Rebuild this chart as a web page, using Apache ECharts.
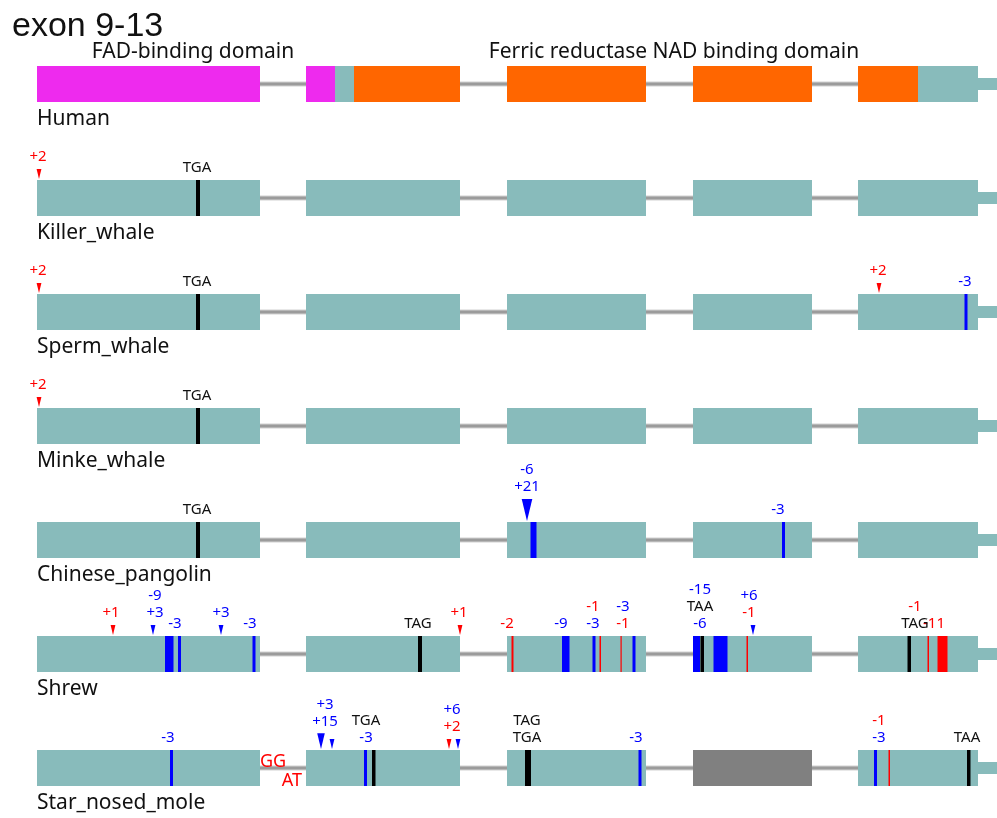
<!DOCTYPE html>
<html>
<head>
<meta charset="utf-8">
<script src="https://cdn.jsdelivr.net/npm/echarts@6/dist/echarts.min.js"></script>
<style>
  html, body { margin: 0; padding: 0; background: #ffffff; }
  #chart { width: 997px; height: 818px; }
</style>
</head>
<body>
<div id="chart"></div>
<script>
// ---- gene model (aligned coordinates, exons 9-13) ----
const species = ['Human', 'Killer_whale', 'Sperm_whale', 'Minke_whale',
                 'Chinese_pangolin', 'Shrew', 'Star_nosed_mole'];
const exonStarts = [37, 306, 507, 693, 858];
const exonEnds   = [260, 460, 646, 812, 978];
const utrEnd = 997;

// Pfam domains on the human reference
const humanDomains = [
  [37, 260, 'FAD'], [306, 335, 'FAD'],
  [354, 460, 'NAD'], [507, 646, 'NAD'], [693, 812, 'NAD'], [858, 918, 'NAD']
];
const domainTitles = [
  ['FAD-binding domain', 193],
  ['Ferric reductase NAD binding domain', 674]
];

// exons not recovered in an assembly (species, exon index)
const lostExons = [['Star_nosed_mole', 3]];

// lesions inside exons: [species, start, end, kind]
const lesions = [
  ['Killer_whale', 196, 200, 'stop'],
  ['Sperm_whale', 196, 200, 'stop'],
  ['Sperm_whale', 964.5, 967.5, 'inframe'],
  ['Minke_whale', 196, 200, 'stop'],
  ['Chinese_pangolin', 196, 200, 'stop'],
  ['Chinese_pangolin', 530.5, 536.5, 'inframe'],
  ['Chinese_pangolin', 782, 785, 'inframe'],
  ['Shrew', 165, 173.5, 'inframe'],
  ['Shrew', 178, 181, 'inframe'],
  ['Shrew', 252.5, 255.5, 'inframe'],
  ['Shrew', 418, 422, 'stop'],
  ['Shrew', 511.5, 513.5, 'frameshift'],
  ['Shrew', 562, 569.5, 'inframe'],
  ['Shrew', 592.5, 595.5, 'inframe'],
  ['Shrew', 599.5, 601, 'frameshift'],
  ['Shrew', 620.5, 621.7, 'frameshift'],
  ['Shrew', 632.5, 635.5, 'inframe'],
  ['Shrew', 693, 700, 'inframe'],
  ['Shrew', 700.5, 704, 'stop'],
  ['Shrew', 713.5, 727.5, 'inframe'],
  ['Shrew', 746.5, 748, 'frameshift'],
  ['Shrew', 907.5, 911, 'stop'],
  ['Shrew', 927.5, 929, 'frameshift'],
  ['Shrew', 937.5, 947.5, 'frameshift'],
  ['Star_nosed_mole', 170, 173, 'inframe'],
  ['Star_nosed_mole', 364, 367, 'inframe'],
  ['Star_nosed_mole', 372, 375.5, 'stop'],
  ['Star_nosed_mole', 525, 531, 'stop'],
  ['Star_nosed_mole', 638.5, 641.5, 'inframe'],
  ['Star_nosed_mole', 874, 877, 'inframe'],
  ['Star_nosed_mole', 888.5, 890, 'frameshift'],
  ['Star_nosed_mole', 967, 970.5, 'stop']
];

// insertions: [species, position, inserted length]
const insertions = [
  ['Killer_whale', 39, 2],
  ['Sperm_whale', 39, 2],
  ['Sperm_whale', 879, 2],
  ['Minke_whale', 39, 2],
  ['Chinese_pangolin', 527, 21],
  ['Shrew', 113, 1],
  ['Shrew', 153, 3],
  ['Shrew', 221, 3],
  ['Shrew', 460, 1],
  ['Shrew', 753, 6],
  ['Star_nosed_mole', 321, 15],
  ['Star_nosed_mole', 332, 3],
  ['Star_nosed_mole', 449, 2],
  ['Star_nosed_mole', 458, 6]
];

// event labels: [species, position, lines from top to bottom]
const notes = [
  ['Killer_whale', 38, '+2'], ['Killer_whale', 197, 'TGA'],
  ['Sperm_whale', 38, '+2'], ['Sperm_whale', 197, 'TGA'],
  ['Sperm_whale', 878, '+2'], ['Sperm_whale', 965, '-3'],
  ['Minke_whale', 38, '+2'], ['Minke_whale', 197, 'TGA'],
  ['Chinese_pangolin', 197, 'TGA'], ['Chinese_pangolin', 527, '-6|+21'],
  ['Chinese_pangolin', 778, '-3'],
  ['Shrew', 111, '+1'], ['Shrew', 155, '-9|+3'], ['Shrew', 175, '-3'],
  ['Shrew', 221, '+3'], ['Shrew', 250, '-3'], ['Shrew', 418, 'TAG'],
  ['Shrew', 459, '+1'], ['Shrew', 507, '-2'], ['Shrew', 561, '-9'],
  ['Shrew', 593, '-1|-3'], ['Shrew', 623, '-3|-1'],
  ['Shrew', 700, '-15|TAA|-6'], ['Shrew', 749, '+6|-1'],
  ['Shrew', 934, '-11'], ['Shrew', 915, '-1|TAG'],
  ['Star_nosed_mole', 168, '-3'], ['Star_nosed_mole', 325, '+3|+15'],
  ['Star_nosed_mole', 366, 'TGA|-3'], ['Star_nosed_mole', 452, '+6|+2'],
  ['Star_nosed_mole', 527, 'TAG|TGA'], ['Star_nosed_mole', 636, '-3'],
  ['Star_nosed_mole', 879, '-1|-3'], ['Star_nosed_mole', 967, 'TAA']
];

// altered splice sites: [species, position, dinucleotide, site]
const spliceNotes = [
  ['Star_nosed_mole', 260, 'GG', 'donor'],
  ['Star_nosed_mole', 306, 'AT', 'acceptor']
];

// ---- styling ----
const EXON = '#88bbbb';
const LOST = '#808080';
const DOMAIN_COLOR = { FAD: '#ee2aee', NAD: '#ff6600' };
const KIND_COLOR = { stop: '#000000', inframe: '#0000ff', frameshift: '#ff0000' };
const BLUE = '#0000ff', RED = '#ff0000', INK = '#111111';
const HALF = 18;         // half exon height, px
const TAIL_HALF = 6;     // half UTR height, px
const SANS = '"Noto Sans", "Open Sans", sans-serif';

const sIdx = name => species.indexOf(name);
function noteColor(t) {
  if (/^[+-]\d+$/.test(t)) return Math.abs(parseInt(t, 10)) % 3 === 0 ? BLUE : RED;
  return INK;
}
function triSize(len) {
  const h = Math.max(10, len * 1.05);
  return { h: h, w: h * 0.48 };
}

// ---- series data ----
const intronData = species.map((s, i) => [exonEnds[0], i, exonStarts[exonStarts.length - 1]]);
const exonItems = [];
species.forEach((s, i) => {
  exonStarts.forEach((st, e) => {
    const lost = lostExons.some(l => l[0] === s && l[1] === e);
    exonItems.push({ value: [st, i, exonEnds[e]], lost: lost });
  });
});
const tailData = species.map((s, i) => [exonEnds[exonEnds.length - 1], i, utrEnd]);
const domainData = humanDomains.map(d => [d[0], 0, d[1]]);
const lesionData = lesions.map(l => [l[1], sIdx(l[0]), l[2]]);
const insertData = insertions.map(t => [t[1], sIdx(t[0]), t[2]]);
const noteData = notes.map(n => [n[1], sIdx(n[0])]);
const speciesLabelData = species.map((s, i) => [exonStarts[0], i]);
const domainTitleData = domainTitles.map(d => [d[1], 0]);
const spliceData = spliceNotes.map(n => [n[1], sIdx(n[0])]);

const chart = echarts.init(document.getElementById('chart'), null, { renderer: 'canvas' });

function rectBetween(api, x0v, x1v, row, half, fill) {
  const a = api.coord([x0v, row]);
  const b = api.coord([x1v, row]);
  return {
    type: 'rect',
    shape: { x: a[0], y: a[1] - half, width: b[0] - a[0], height: half * 2 },
    style: { fill: fill }
  };
}

const baseSeries = { type: 'custom', silent: true, animation: false, clip: false };

chart.setOption({
  animation: false,
  grid: { left: 0, right: 0, top: 84, bottom: 50 },
  xAxis: { type: 'value', min: 0, max: 997, show: false },
  yAxis: { type: 'category', data: species, inverse: true, boundaryGap: false, show: false },
  graphic: [{
    type: 'text', left: 12, top: 10,
    style: { text: 'exon 9-13', font: '34px "Liberation Sans", Arial, sans-serif', fill: '#111' }
  }],
  series: [
    // introns
    Object.assign({}, baseSeries, {
      z: 1, data: intronData,
      renderItem: function (params, api) {
        const a = api.coord([api.value(0), api.value(1)]);
        const b = api.coord([api.value(2), api.value(1)]);
        return {
          type: 'group', children: [
            { type: 'line', shape: { x1: a[0], y1: a[1], x2: b[0], y2: b[1] },
              style: { stroke: '#d2d2d2', lineWidth: 5 } },
            { type: 'line', shape: { x1: a[0], y1: a[1], x2: b[0], y2: b[1] },
              style: { stroke: '#9b9b9b', lineWidth: 3 } }
          ]
        };
      }
    }),
    // exons
    Object.assign({}, baseSeries, {
      z: 2, data: exonItems,
      renderItem: function (params, api) {
        const item = exonItems[params.dataIndex];
        return rectBetween(api, api.value(0), api.value(2), api.value(1), HALF, item.lost ? LOST : EXON);
      }
    }),
    // 3' UTR
    Object.assign({}, baseSeries, {
      z: 2, data: tailData,
      renderItem: function (params, api) {
        return rectBetween(api, api.value(0), api.value(2), api.value(1), TAIL_HALF, EXON);
      }
    }),
    // human domains
    Object.assign({}, baseSeries, {
      z: 3, data: domainData,
      renderItem: function (params, api) {
        const d = humanDomains[params.dataIndex];
        return rectBetween(api, api.value(0), api.value(2), api.value(1), HALF, DOMAIN_COLOR[d[2]]);
      }
    }),
    // domain titles
    Object.assign({}, baseSeries, {
      z: 5, data: domainTitleData,
      renderItem: function (params, api) {
        const p = api.coord([api.value(0), api.value(1)]);
        return {
          type: 'text',
          style: { text: domainTitles[params.dataIndex][0], x: p[0], y: p[1] - HALF - 14,
                   align: 'center', verticalAlign: 'middle', font: '21px ' + SANS, fill: INK }
        };
      }
    }),
    // species names
    Object.assign({}, baseSeries, {
      z: 5, data: speciesLabelData,
      renderItem: function (params, api) {
        const p = api.coord([api.value(0), api.value(1)]);
        return {
          type: 'text',
          style: { text: species[params.dataIndex], x: p[0], y: p[1] + HALF + 17,
                   align: 'left', verticalAlign: 'middle', font: '21px ' + SANS, fill: INK }
        };
      }
    }),
    // lesions
    Object.assign({}, baseSeries, {
      z: 4, data: lesionData,
      renderItem: function (params, api) {
        const kind = lesions[params.dataIndex][3];
        return rectBetween(api, api.value(0), api.value(2), api.value(1), HALF, KIND_COLOR[kind]);
      }
    }),
    // insertion triangles
    Object.assign({}, baseSeries, {
      z: 4, data: insertData,
      renderItem: function (params, api) {
        const p = api.coord([api.value(0), api.value(1)]);
        const len = api.value(2);
        const t = triSize(len);
        const top = p[1] - HALF - 1;
        return {
          type: 'polygon',
          shape: { points: [[p[0] - t.w / 2, top - t.h], [p[0] + t.w / 2, top - t.h], [p[0], top]] },
          style: { fill: len % 3 === 0 ? BLUE : RED }
        };
      }
    }),
    // event labels
    Object.assign({}, baseSeries, {
      z: 6, data: noteData,
      renderItem: function (params, api) {
        const n = notes[params.dataIndex];
        const pos = api.value(0);
        const row = api.value(1);
        const p = api.coord([pos, row]);
        // lift the stack above any insertion triangle at this site
        let lift = 12.5;
        insertions.forEach(t => {
          if (t[0] === n[0] && Math.abs(t[1] - pos) <= 10) {
            lift = Math.max(lift, triSize(t[2]).h + 13);
          }
        });
        const lines = n[2].split('|');
        const boxTop = p[1] - HALF;
        const children = lines.map((txt, k) => ({
          type: 'text',
          style: {
            text: txt, x: p[0], y: boxTop - lift - (lines.length - 1 - k) * 17,
            align: 'center', verticalAlign: 'middle', font: '15px ' + SANS, fill: noteColor(txt)
          }
        }));
        return { type: 'group', children: children };
      }
    }),
    // splice-site dinucleotides
    Object.assign({}, baseSeries, {
      z: 6, data: spliceData,
      renderItem: function (params, api) {
        const n = spliceNotes[params.dataIndex];
        const p = api.coord([api.value(0), api.value(1)]);
        const donor = n[3] === 'donor';
        return {
          type: 'text',
          style: {
            text: n[2], x: donor ? p[0] : p[0] - 4, y: donor ? p[1] - 6 : p[1] + 13,
            align: donor ? 'left' : 'right', verticalAlign: 'middle',
            font: '18px ' + SANS, fill: RED
          }
        };
      }
    })
  ]
});
</script>
</body>
</html>
